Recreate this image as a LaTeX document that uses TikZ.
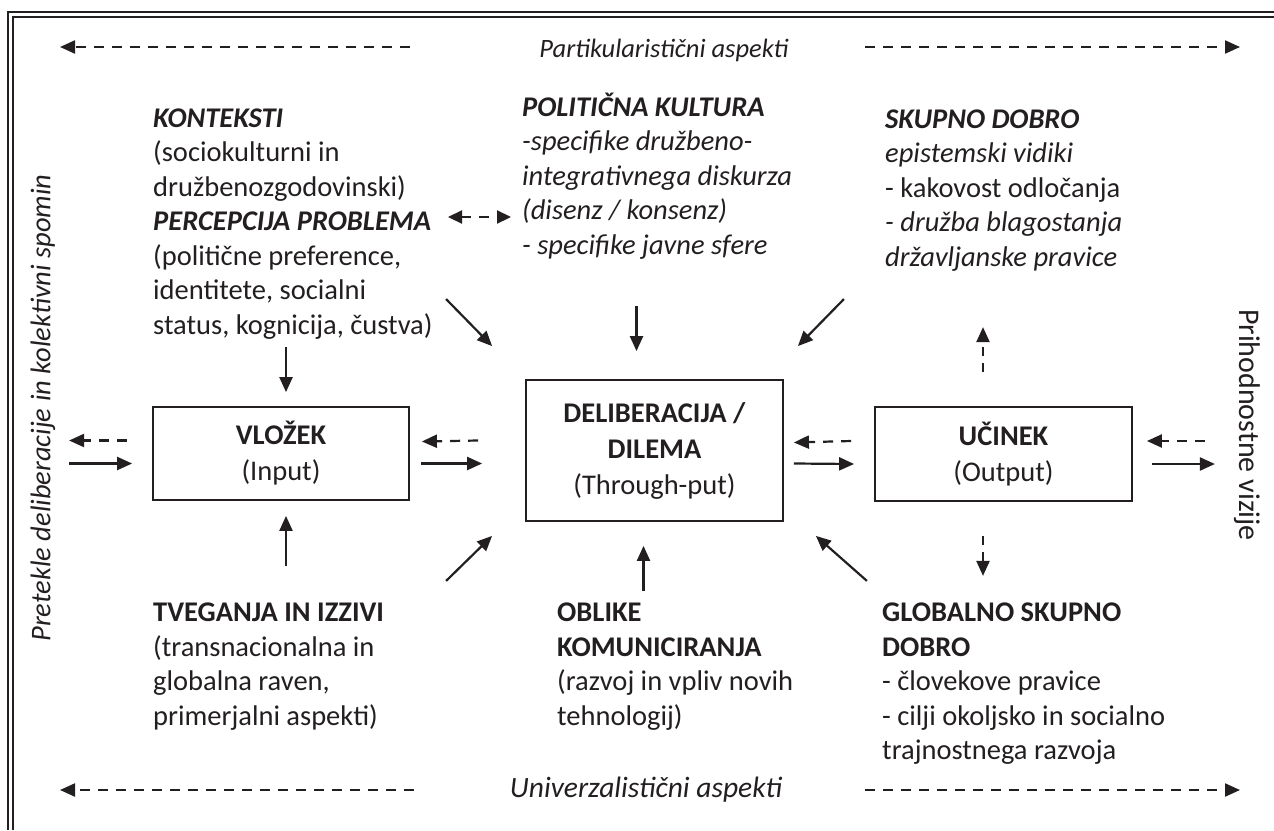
\documentclass[tikz,border=0pt]{standalone}
\usepackage{fontspec}
\setmainfont{Carlito}
\usetikzlibrary{arrows.meta,calc}
\definecolor{ink}{HTML}{231F20}
\begin{document}
\begin{tikzpicture}[x=1pt,y=-1pt,
  every node/.style={text=ink},
  arr/.style={draw=ink,line width=2.2pt,-{Triangle[length=15pt,width=13pt]}},
  darr/.style={arr,dash pattern=on 10pt off 8pt},
  ddarr/.style={draw=ink,line width=2.2pt,dash pattern=on 10pt off 8pt,{Triangle[length=14pt,width=13pt]}-{Triangle[length=14pt,width=13pt]}},
  box/.style={draw=ink,line width=1.8pt,inner sep=0pt,align=center,font=\fontsize{28.5}{36}\selectfont},
  txt/.style={align=left,inner sep=0pt,anchor=base west,font=\fontsize{28.5}{34.5}\selectfont},
  lab/.style={inner sep=0pt},
]
\useasboundingbox (0,0) rectangle (1274,830);
% frame
\draw[ink,line width=2pt] (8,830) -- (8,12) -- (1274,12);
\draw[ink,line width=1.2pt] (13,830) -- (13,17) -- (1274,17);

% aspect labels
\node[lab,font=\fontsize{26.5}{30}\selectfont\itshape] (part) at (664,50) {Partikularistični aspekti};
\node[lab,font=\fontsize{29.5}{34}\selectfont\itshape] (univ) at (646,790) {Univerzalistični aspekti};
\node[lab,rotate=90,font=\fontsize{28.5}{34}\selectfont\itshape] (past) at (43,408) {Pretekle deliberacije in kolektivni spomin};
\node[lab,rotate=-90,font=\fontsize{30}{34}\selectfont] (fut) at (1247,425) {Prihodnostne vizije};

\coordinate (tl) at (60,47);
\coordinate (tlA) at (410,47);
\coordinate (tr) at (1240,47);
\coordinate (trA) at (865,47);
\coordinate (bl) at (60,790);
\coordinate (blA) at (414,790);
\coordinate (br) at (1240,790);
\coordinate (brA) at (865,790);
\draw[darr] (tlA) -- (tl);
\draw[darr] (trA) -- (tr);
\draw[darr] (blA) -- (bl);
\draw[darr] (brA) -- (br);

% boxes
\node[box,minimum width=256pt,minimum height=93pt] (vlozek) at (281,453.5) {\textbf{VLOŽEK}\\(Input)};
\node[box,minimum width=257pt,minimum height=141pt] (delib) at (654.5,450.5) {\textbf{DELIBERACIJA /}\\\textbf{DILEMA}\\(Through-put)};
\node[box,minimum width=257pt,minimum height=94pt] (ucinek) at (1003.5,454) {\textbf{UČINEK}\\(Output)};

% text blocks (anchor = baseline of last line)
\node[txt] (kont) at (153,334) {\textbf{\itshape KONTEKSTI}\\(sociokulturni in\\družbenozgodovinski)\\\textbf{\itshape PERCEPCIJA PROBLEMA}\\(politične preference,\\identitete, socialni\\status, kognicija, čustva)};
\node[txt] (pol) at (522,254) {\textbf{\itshape POLITIČNA KULTURA}\\\itshape -specifike družbeno-\\\itshape integrativnega diskurza\\\itshape (disenz / konsenz)\\\itshape - specifike javne sfere};
\node[txt] (skup) at (885,266) {\textbf{\itshape SKUPNO DOBRO}\\\itshape epistemski vidiki\\- kakovost odločanja\\\itshape - družba blagostanja\\\itshape državljanske pravice};
\node[txt] (tveg) at (153,725) {\textbf{TVEGANJA IN IZZIVI}\\(transnacionalna in\\globalna raven,\\primerjalni aspekti)};
\node[txt] (obl) at (557,725) {\textbf{OBLIKE}\\\textbf{KOMUNICIRANJA}\\(razvoj in vpliv novih\\tehnologij)};
\node[txt] (glob) at (882,759.5) {\textbf{GLOBALNO SKUPNO}\\\textbf{DOBRO}\\- človekove pravice\\- cilji okoljsko in socialno\\trajnostnega razvoja};

% PERCEPCIJA <-> POLITICNA
\draw[ddarr] (448,217) -- (511,217);

% vertical arrows to VLOZEK
\draw[arr] ([shift={(5,-59)}]vlozek.north) -- ([shift={(5,-14)}]vlozek.north);
\draw[arr] ([shift={(5,65)}]vlozek.south) -- ([shift={(5,15)}]vlozek.south);

% diagonal & vertical arrows to DELIB
\draw[arr] ([shift={(-79,-80)}]delib.north west) -- ([shift={(-33,-33)}]delib.north west);
\draw[arr] ([shift={(-18,-73)}]delib.north) -- ([shift={(-18,-28)}]delib.north);
\draw[arr] ([shift={(60,-80)}]delib.north east) -- ([shift={(14,-33)}]delib.north east);
\draw[arr] ([shift={(-79,59)}]delib.south west) -- ([shift={(-33,14)}]delib.south west);
\draw[arr] ([shift={(-11,69)}]delib.south) -- ([shift={(-11,24)}]delib.south);
\draw[arr] ([shift={(83,59)}]delib.south east) -- ([shift={(32,14)}]delib.south east);

% horizontal pairs
\draw[darr] ([shift={(-25,-13)}]vlozek.west) -- ([shift={(-83,-13)}]vlozek.west);
\draw[arr] ([shift={(-83,10)}]vlozek.west) -- ([shift={(-20,10)}]vlozek.west);
\draw[darr] ([shift={(-47,-10)}]delib.west) -- ([shift={(12,-12)}]vlozek.east);
\draw[arr] ([shift={(11,10)}]vlozek.east) -- ([shift={(-43,13)}]delib.west);
\draw[darr] ([shift={(-23,-13)}]ucinek.west) -- ([shift={(10,-8)}]delib.east);
\draw[arr] ([shift={(10,13)}]delib.east) -- ([shift={(-20,10)}]ucinek.west);
\draw[darr] ([shift={(72,-13)}]ucinek.east) -- ([shift={(14,-13)}]ucinek.east);
\draw[arr] ([shift={(19,10)}]ucinek.east) -- ([shift={(82,10)}]ucinek.east);

% dashed up/down from UCINEK
\draw[darr,dash pattern=on 9pt off 7pt] ([shift={(-20.5,-34)}]ucinek.north) -- ([shift={(-20.5,-79)}]ucinek.north);
\draw[darr,dash pattern=on 9pt off 7pt] ([shift={(-20.5,34)}]ucinek.south) -- ([shift={(-20.5,74)}]ucinek.south);
\end{tikzpicture}
\end{document}
